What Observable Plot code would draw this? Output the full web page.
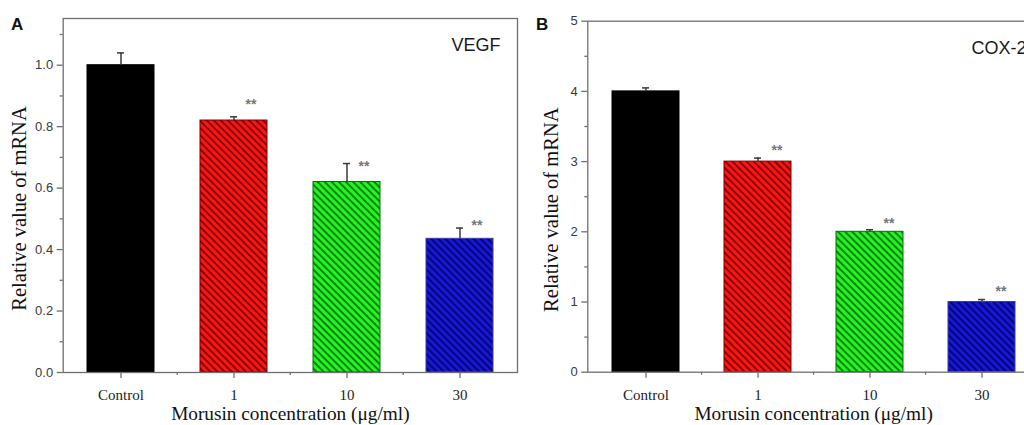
<!DOCTYPE html>
<html>
<head>
<meta charset="utf-8">
<script src="https://cdn.jsdelivr.net/npm/d3@7"></script>
<script src="https://cdn.jsdelivr.net/npm/@observablehq/plot@0.6"></script>
<style>
  html, body { margin: 0; padding: 0; background: #fff; }
  #wrap { position: relative; width: 1024px; height: 425px; overflow: hidden; }
  .panel { position: absolute; top: 0; }
  .plabel { position: absolute; font-family: "Liberation Sans", Arial, sans-serif; font-weight: bold; font-size: 17px; color: #111; }
</style>
</head>
<body>
<div id="wrap"></div>
<script>
// ---- data ----
const categories = ["Control", "1", "10", "30"];
const vegfValues = [1.0, 0.82, 0.62, 0.435];
const vegfErrors = [0.04, 0.012, 0.06, 0.035];
const vegfStarY  = [null, 0.885, 0.683, 0.49];
const coxValues  = [4.0, 3.0, 2.0, 1.0];
const coxErrors  = [0.05, 0.05, 0.03, 0.035];
const coxStarY   = [null, 3.22, 2.175, 1.2];
const vegfTicks = [0, 0.2, 0.4, 0.6, 0.8, 1.0];
const vegfMinor = [0.1, 0.3, 0.5, 0.7, 0.9, 1.1];
const coxTicks  = [0, 1, 2, 3, 4, 5];
const coxMinor  = [0.5, 1.5, 2.5, 3.5, 4.5];
const xTitle = "Morusin concentration (\u03BCg/ml)";
const yTitle = "Relative value of mRNA";

// ---- styles ----
const fills   = ["#000000", "#ff1414", "#22f522", "#1717d6"];
const lines   = [null, "#5a0000", "#035a03", "#00005a"];
const borders = ["#000000", "#7a0000", "#0c6a0c", "#3a3aa0"];
const serif = "'Liberation Serif', 'Times New Roman', serif";
const sans = "'Liberation Sans', Arial, sans-serif";

function panel({id, values, errors, stars, ticks, minor, yMax, fmt, gene, width, ml, mr, mt, mb, starDx, geneDx, titleDx, left}) {
  const data = categories.map((c, i) => ({
    cat: c, value: values[i], err: errors[i], star: stars[i],
    pattern: i === 0 ? fills[0] : `url(#${id}-h${i})`, border: borders[i]
  }));
  const step = (width - ml - mr) / categories.length;
  const svg = Plot.plot({
    width, height: 425,
    marginLeft: ml, marginRight: mr, marginTop: mt, marginBottom: mb,
    style: {background: "transparent", overflow: "visible"},
    x: {domain: categories, paddingInner: 0.405, paddingOuter: 0.2025, label: null},
    y: {domain: [0, yMax], label: null},
    color: {type: "identity"},
    marks: [
      Plot.barY(data, {x: "cat", y: "value", fill: "pattern", stroke: "border", strokeWidth: 1}),
      Plot.ruleX(data, {x: "cat", y1: "value", y2: d => d.value + d.err, stroke: "#3a3a3a", strokeWidth: 1.5}),
      Plot.tickY(data, {x: "cat", y: d => d.value + d.err, stroke: "#3a3a3a", strokeWidth: 1.5, insetLeft: 30, insetRight: 30}),
      Plot.text(data.filter(d => d.star != null), {x: "cat", y: "star", text: () => "**", dx: starDx, dy: 4,
        fill: "#777", fontSize: 14, fontFamily: sans, fontWeight: "bold"}),
      Plot.frame({stroke: "#6f6f6f", strokeWidth: 1.3}),
      Plot.axisY({ticks, tickFormat: fmt, tickSize: 6, tickPadding: 4, stroke: "#6f6f6f", strokeWidth: 1.3,
        fontSize: 13, fontFamily: sans, fill: "#3a3a3a", label: null}),
      Plot.axisY({ticks: minor, tickSize: 3, text: null, stroke: "#6f6f6f", strokeWidth: 1.3, label: null}),
      Plot.axisX({tickSize: 6, tickPadding: 11, stroke: "#6f6f6f", strokeWidth: 1.3,
        fontSize: 15, fontFamily: serif, fill: "#222", label: null}),
      Plot.axisX({ticks: categories.slice(1), tickSize: 3, text: null, dx: -step / 2, stroke: "#6f6f6f", strokeWidth: 1.3, label: null}),
      Plot.text([xTitle], {frameAnchor: "bottom", lineAnchor: "middle", dy: 41.5, fontSize: 19.3, fontFamily: serif, fill: "#111"}),
      Plot.text([yTitle], {frameAnchor: "left", textAnchor: "middle", lineAnchor: "middle", rotate: -90, dx: titleDx, dy: 13, fontSize: 20.5, fontFamily: serif, fill: "#111"}),
      Plot.text([gene], {frameAnchor: "top-right", textAnchor: "end", dx: geneDx, dy: 20, fontSize: 18, fontFamily: sans, fill: "#1a1a1a"})
    ]
  });
  // hatch patterns
  const ns = "http://www.w3.org/2000/svg";
  const defs = document.createElementNS(ns, "defs");
  for (let i = 1; i < categories.length; i++) {
    const p = document.createElementNS(ns, "pattern");
    p.setAttribute("id", `${id}-h${i}`);
    p.setAttribute("patternUnits", "userSpaceOnUse");
    p.setAttribute("width", "5");
    p.setAttribute("height", "5");
    p.setAttribute("patternTransform", "rotate(-45)");
    const r = document.createElementNS(ns, "rect");
    r.setAttribute("width", "5"); r.setAttribute("height", "5"); r.setAttribute("fill", fills[i]);
    const l = document.createElementNS(ns, "line");
    l.setAttribute("x1", "1"); l.setAttribute("y1", "-1"); l.setAttribute("x2", "1"); l.setAttribute("y2", "6");
    l.setAttribute("stroke", lines[i]); l.setAttribute("stroke-width", "1.5");
    p.appendChild(r); p.appendChild(l); defs.appendChild(p);
  }
  svg.insertBefore(defs, svg.firstChild);
  svg.classList.add("panel");
  svg.style.left = left + "px";
  return svg;
}

const wrap = document.getElementById("wrap");
wrap.appendChild(panel({id: "A", values: vegfValues, errors: vegfErrors, stars: vegfStarY, ticks: vegfTicks, minor: vegfMinor,
  yMax: 1.152, fmt: d => d.toFixed(1), gene: "VEGF", width: 525, ml: 62.7, mr: 8, mt: 18, mb: 53, starDx: 17, geneDx: -17, titleDx: -44, left: 0}));
wrap.appendChild(panel({id: "B", values: coxValues, errors: coxErrors, stars: coxStarY, ticks: coxTicks, minor: coxMinor,
  yMax: 5, fmt: d => String(d), gene: "COX-2", width: 535, ml: 67.3, mr: 16, mt: 20.7, mb: 53.3, starDx: 19, geneDx: -13, titleDx: -36, left: 520}));

const la = document.createElement("div"); la.className = "plabel"; la.textContent = "A";
la.style.left = "11px"; la.style.top = "15px"; wrap.appendChild(la);
const lb = document.createElement("div"); lb.className = "plabel"; lb.textContent = "B";
lb.style.left = "536px"; lb.style.top = "15px"; wrap.appendChild(lb);
</script>
</body>
</html>
